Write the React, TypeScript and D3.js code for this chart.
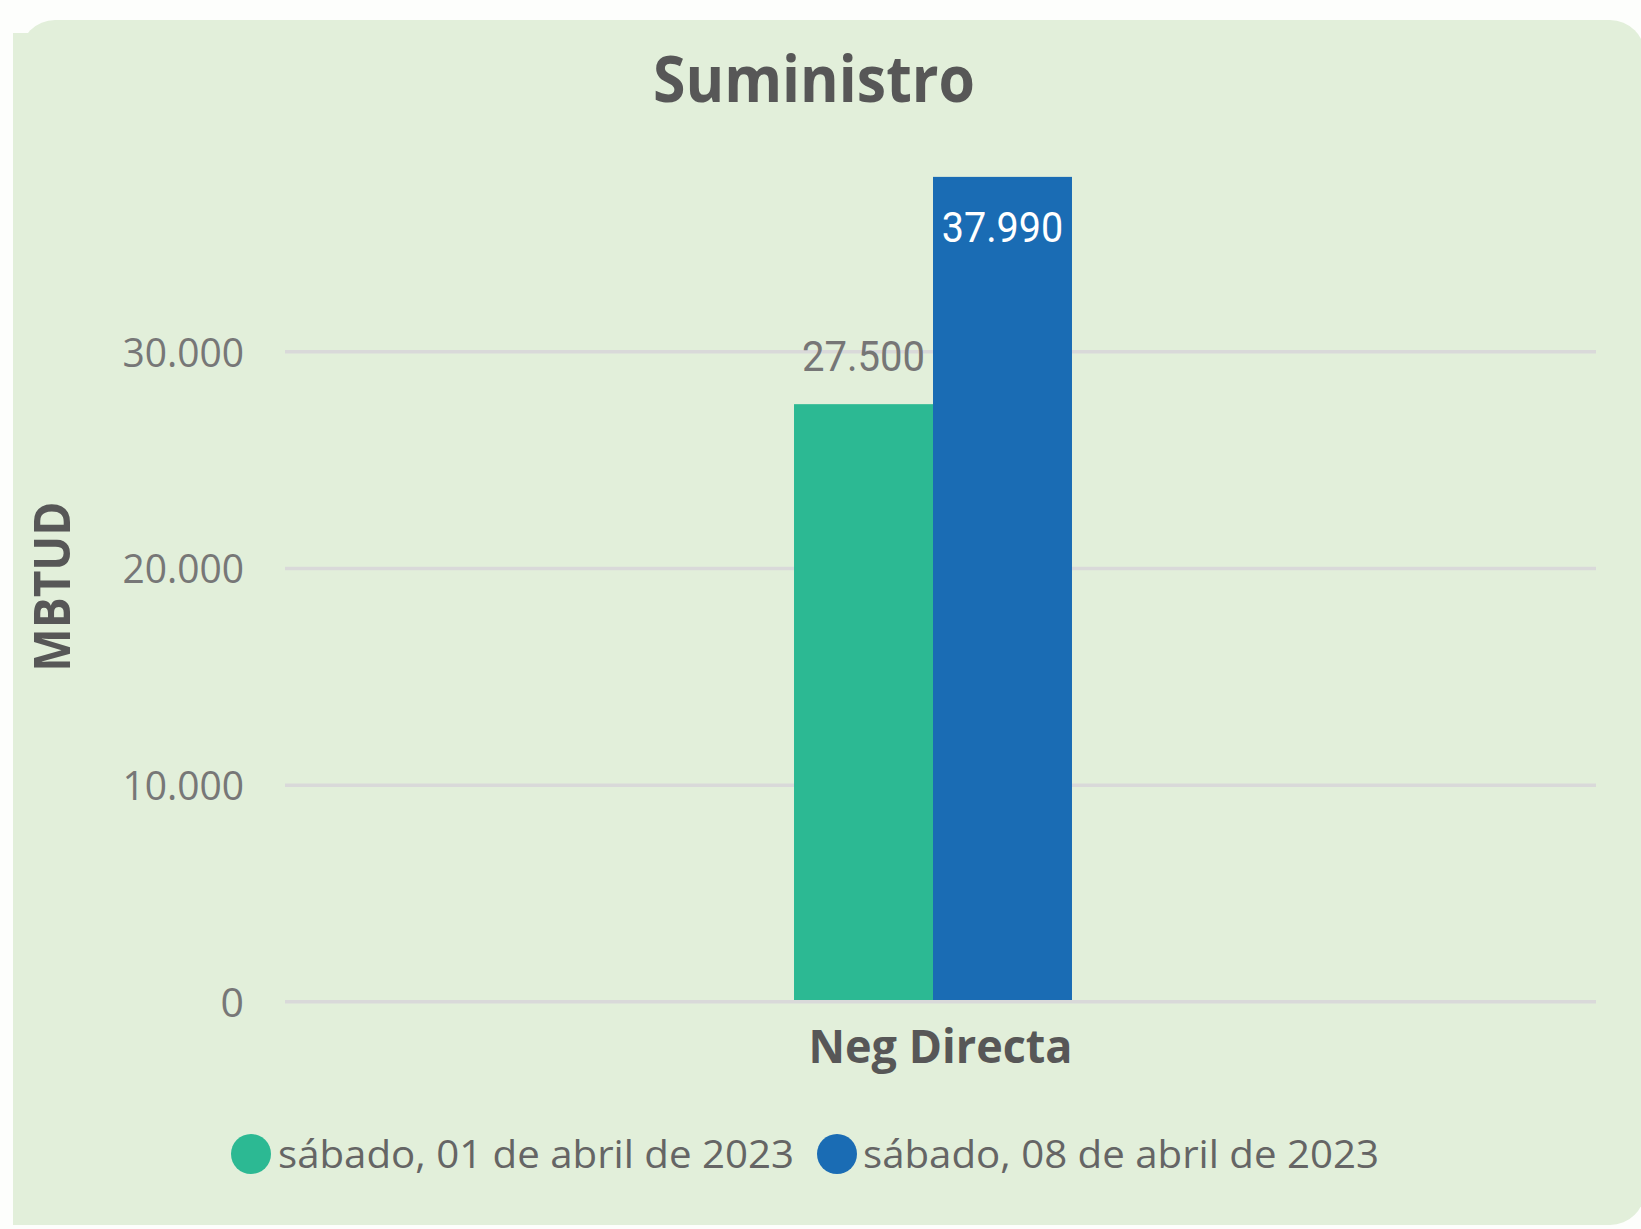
import React from "react";
import * as d3 from "d3";

const categories = ["Neg Directa"];
const seriesNames = ["sábado, 01 de abril de 2023", "sábado, 08 de abril de 2023"];
const seriesValues = [[27500], [37990]];
const yTicks = [0, 10000, 20000, 30000];
const titleText = "Suministro";
const yAxisTitle = "MBTUD";

const COLORS = ["#2cb993", "#1a6cb4"];
const W = 1641;
const H = 1229;

const locale = d3.formatLocale({ decimal: ",", thousands: ".", grouping: [3], currency: ["", ""] });
const fmt = locale.format(",.0f");

export default function App() {
  const y = d3.scaleLinear().domain([0, 30000]).range([1000, 350]);
  const gridOffset = 1.8;
  const x0 = d3
    .scaleBand<string>()
    .domain(categories)
    .range([270, 1596])
    .paddingInner(0.6534)
    .paddingOuter(0.6534);
  const x1 = d3
    .scaleBand<string>()
    .domain(seriesNames)
    .range([0, x0.bandwidth()]);

  const gridX0 = 285;
  const gridX1 = 1596;
  const sans = "'Open Sans', 'Noto Sans', sans-serif";
  const din = "Roboto, 'Open Sans', sans-serif";

  const legendItems = seriesNames.map((n, i) => ({
    name: n,
    cx: i === 0 ? 251 : 837,
    tx: i === 0 ? 278 : 863,
  }));

  return (
    <svg
      width={W}
      height={H}
      style={{ position: "absolute", left: 0, top: 0, background: "#fdfefc" }}
    >
      <rect x={0} y={0} width={W} height={H} fill="#fdfefc" />
      <rect x={20} y={20} width={1625} height={1205} rx={35} ry={35} fill="#e2efda" />
      <rect x={13} y={33} width={120} height={1192} fill="#e2efda" />

      <text
        x={814}
        y={101.7}
        textAnchor="middle"
        fontFamily={sans}
        fontWeight={700}
        fontSize={64}
        fill="#575757"
        textLength={322}
        lengthAdjust="spacingAndGlyphs"
      >
        {titleText}
      </text>

      <text
        transform={`translate(${69.5},${586.7}) rotate(-90)`}
        textAnchor="middle"
        fontFamily={sans}
        fontWeight={700}
        fontSize={51}
        fill="#575757"
        textLength={170}
        lengthAdjust="spacingAndGlyphs"
      >
        {yAxisTitle}
      </text>

      {yTicks.map((t) => (
        <g key={t}>
          <line
            x1={gridX0}
            x2={gridX1}
            y1={y(t) + gridOffset}
            y2={y(t) + gridOffset}
            stroke="#d9d9d9"
            strokeWidth={3.5}
          />
          <text
            x={244}
            y={y(t) + gridOffset + 15}
            textAnchor="end"
            fontFamily={sans}
            fontSize={41}
            fill="#777777"
            textLength={fmt(t).length === 1 ? undefined : 121.6}
            lengthAdjust="spacingAndGlyphs"
          >
            {fmt(t)}
          </text>
        </g>
      ))}

      {categories.map((c, ci) => (
        <g key={c}>
          {seriesNames.map((s, si) => {
            const v = seriesValues[si][ci];
            const bx = (x0(c) as number) + (x1(s) as number);
            const bw = x1.bandwidth();
            const top = y(v);
            return (
              <g key={s}>
                <rect x={bx} y={top} width={bw} height={y(0) - top} fill={COLORS[si]} />
                {si === 0 ? (
                  <text
                    x={bx + bw / 2}
                    y={top - 33}
                    textAnchor="middle"
                    fontFamily={din}
                    fontSize={42}
                    fill="#767676"
                    textLength={123}
                    lengthAdjust="spacingAndGlyphs"
                  >
                    {fmt(v)}
                  </text>
                ) : (
                  <text
                    x={bx + bw / 2}
                    y={top + 65}
                    textAnchor="middle"
                    fontFamily={din}
                    fontSize={42}
                    fill="#ffffff"
                    textLength={121.6}
                    lengthAdjust="spacingAndGlyphs"
                  >
                    {fmt(v)}
                  </text>
                )}
              </g>
            );
          })}
          <text
            x={(gridX0 + gridX1) / 2}
            y={1063.3}
            textAnchor="middle"
            fontFamily={sans}
            fontWeight={700}
            fontSize={47}
            fill="#575757"
            textLength={264}
            lengthAdjust="spacingAndGlyphs"
          >
            {c}
          </text>
        </g>
      ))}

      {legendItems.map((l, i) => (
        <g key={l.name}>
          <circle cx={l.cx} cy={1154} r={20} fill={COLORS[i]} />
          <text
            x={l.tx}
            y={1168.3}
            fontFamily={sans}
            fontSize={39}
            fill="#656565"
            textLength={516}
            lengthAdjust="spacingAndGlyphs"
          >
            {l.name}
          </text>
        </g>
      ))}
    </svg>
  );
}
